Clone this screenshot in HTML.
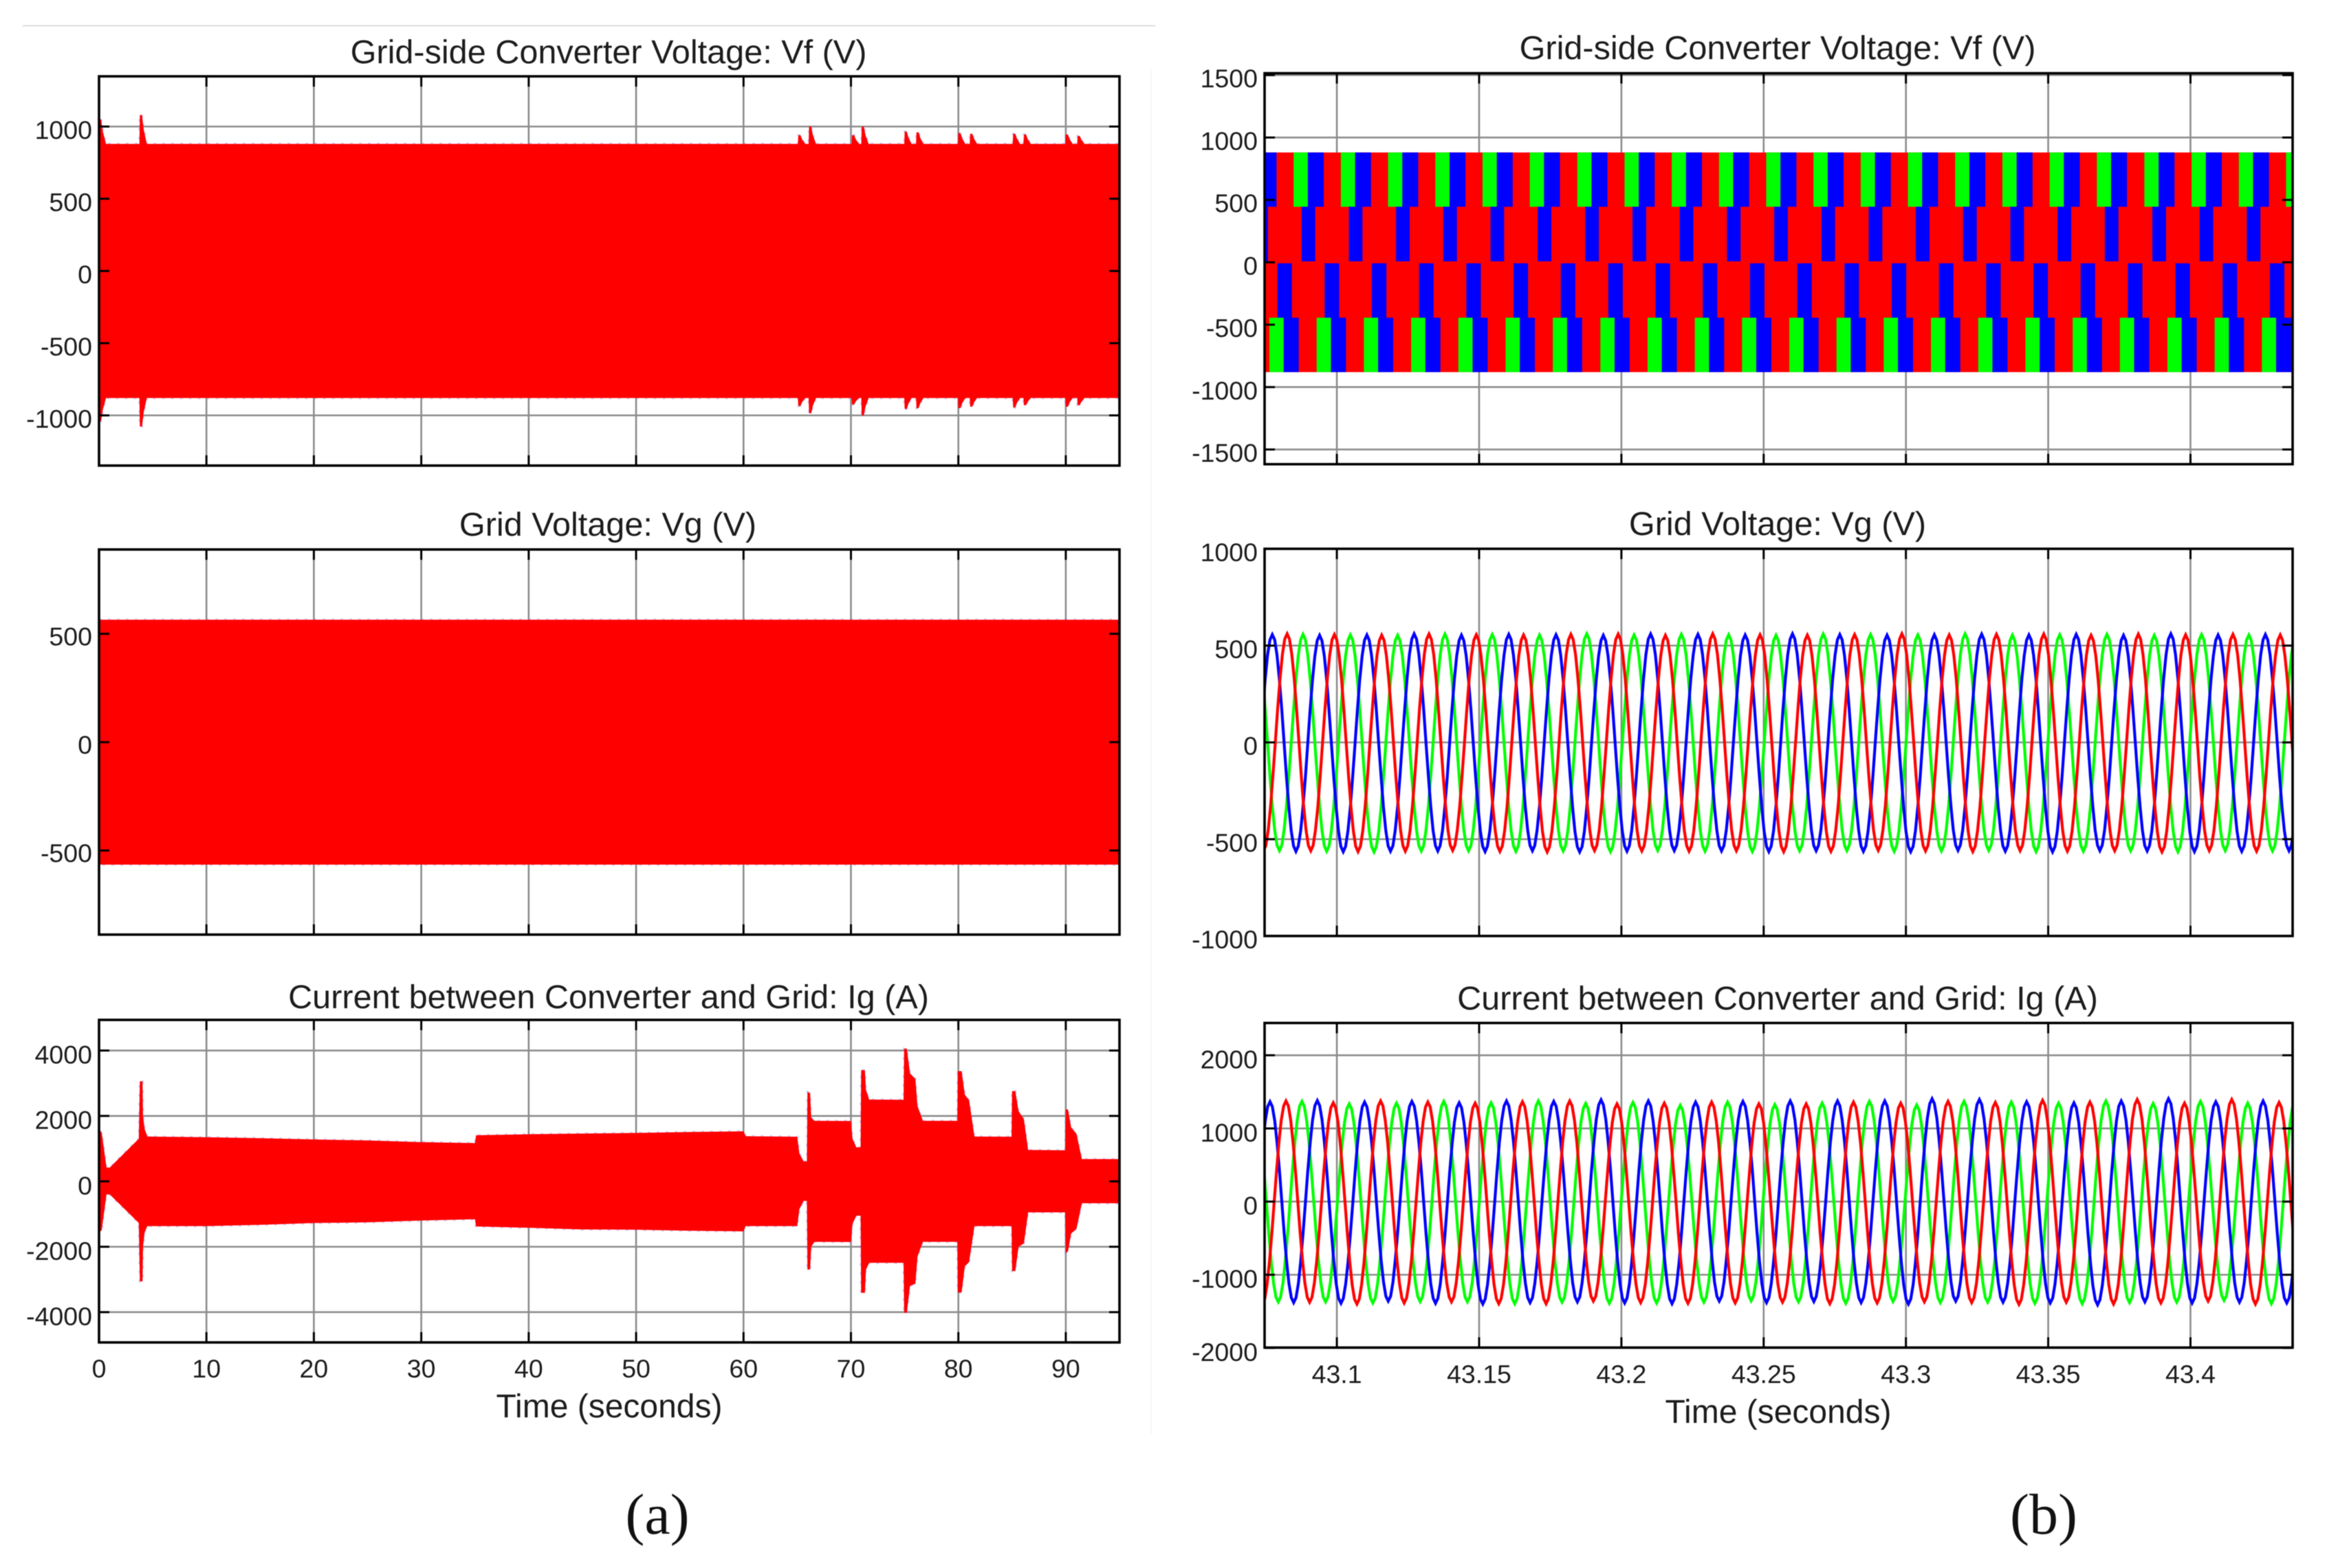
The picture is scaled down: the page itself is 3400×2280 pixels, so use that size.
<!DOCTYPE html>
<html lang="en">
<head>
<meta charset="utf-8">
<title>Grid-side converter waveforms</title>
<style>
html,body{margin:0;padding:0;background:#fff;}
svg{display:block;filter:blur(0.6px);}
text{font-family:"Liberation Sans",Arial,sans-serif;fill:#1c1c1c;}
.title{font-size:48.6px;text-anchor:middle;}
.axis-title{font-size:48px;text-anchor:middle;}
.tick{font-size:37.5px;}
.caption{font-family:"Liberation Serif",serif;font-size:84px;text-anchor:middle;fill:#111;}
</style>
</head>
<body>
<svg id="chart" xmlns="http://www.w3.org/2000/svg" width="3400" height="2280" viewBox="0 0 3400 2280">
  <rect x="0" y="0" width="3400" height="2280" fill="#fff"/>
  <line x1="33" y1="37.5" x2="1680" y2="37.5" stroke="#dcdcdc" stroke-width="2"/>
  <line x1="1674" y1="100" x2="1674" y2="2085" stroke="#f6f6f6" stroke-width="2"/>
  <g id="panel-a-top"></g>
  <g id="panel-a-mid"></g>
  <g id="panel-a-bot"></g>
  <g id="panel-b-top"></g>
  <g id="panel-b-mid"></g>
  <g id="panel-b-bot"></g>

  <text class="title" x="885" y="92">Grid-side Converter Voltage: Vf (V)</text>
  <text class="title" x="884" y="779">Grid Voltage: Vg (V)</text>
  <text class="title" x="885" y="1466">Current between Converter and Grid: Ig (A)</text>
  <text class="axis-title" x="886" y="2061">Time (seconds)</text>
  <text class="caption" x="956" y="2230">(a)</text>

  <text class="title" x="2585" y="86">Grid-side Converter Voltage: Vf (V)</text>
  <text class="title" x="2585" y="778">Grid Voltage: Vg (V)</text>
  <text class="title" x="2585" y="1468">Current between Converter and Grid: Ig (A)</text>
  <text class="axis-title" x="2586" y="2069">Time (seconds)</text>
  <text class="caption" x="2972" y="2230">(b)</text>
</svg>

<script>
// ---------- tick labels ----------
const overviewTimeTicks = [0,10,20,30,40,50,60,70,80,90];
const detailTimeTicks = [43.1,43.15,43.2,43.25,43.3,43.35,43.4];
const aTopValueTicks = [1000,500,0,-500,-1000];
const aMidValueTicks = [500,0,-500];
const aBotValueTicks = [4000,2000,0,-2000,-4000];
const bTopValueTicks = [1500,1000,500,0,-500,-1000,-1500];
const bMidValueTicks = [1000,500,0,-500,-1000];
const bBotValueTicks = [2000,1000,0,-1000,-2000];

// ---------- overview Vf envelope ----------
const vfLevelUpper = 880;
const vfLevelLower = -880;
const vfSpikeTimes = [0,3.8,65.1,66.1,70.1,71,75,76.1,80,81.1,85.1,86.1,90,91.1];
const vfSpikeUpper = [1050,1080,940,1000,940,1000,965,960,955,950,950,945,945,935];
const vfSpikeLower = [-1040,-1077,-935,-985,-925,-1000,-955,-950,-950,-940,-945,-930,-940,-930];

// ---------- overview Vg envelope ----------
const vgTimes = [0,95];
const vgUpper = [565,565];
const vgLower = [-565,-565];

// ---------- overview Ig envelope ----------
const igTimes = [0,0.25,0.7,1,3.7,3.8,4.05,4.1,4.25,4.5,10,15,20,25,30,35,35.1,40,45,50,55,60,60.2,65,65.2,65.6,65.9,65.95,66.2,66.3,66.6,70,70.15,70.5,70.9,70.95,71.3,71.4,71.7,74.9,74.95,75.2,75.5,76,76.2,76.7,79.9,79.95,80.3,80.6,81,81.5,84.95,85,85.3,85.6,86.1,86.5,89.95,90,90.2,90.5,91,91.5,95];
const igUpper = [1550,1500,420,420,1300,3060,3060,2000,1600,1370,1350,1320,1280,1250,1200,1170,1410,1440,1460,1480,1510,1530,1380,1365,850,610,610,2730,2700,1950,1850,1845,1300,1040,1040,3400,3400,2800,2500,2495,4060,4060,3300,3130,2300,1850,1850,3370,3370,2650,2480,1370,1365,2760,2760,2150,1900,960,950,2200,2200,1650,1450,680,680];
const igLower = [-1550,-1500,-400,-400,-1270,-3060,-3060,-2000,-1550,-1370,-1370,-1330,-1275,-1255,-1200,-1160,-1380,-1420,-1470,-1480,-1510,-1530,-1370,-1370,-850,-600,-600,-2700,-2690,-2000,-1850,-1855,-1300,-1050,-1050,-3410,-3410,-2700,-2490,-2490,-4020,-4020,-3200,-3130,-2300,-1850,-1850,-3400,-3400,-2600,-2470,-1370,-1370,-2745,-2745,-2000,-1900,-950,-950,-2190,-2150,-1600,-1450,-670,-670];

// ---------- detail Vf switching bands ----------
const vfBandUpper = [880,445,-8,-444];
const vfBandLower = [445,8,-444,-880];
const vfRedUpper = 880;
const vfRedLower = -880;
const band1GreenStarts = [43.0848,43.1014,43.1180,43.1346,43.1512,43.1678,43.1845,43.2011,43.2177,43.2343,43.2509,43.2675,43.2841,43.3007,43.3173,43.3339,43.3505,43.3671,43.3838,43.4004,43.4170,43.4336];
const band1BlueStarts = [43.0732,43.0898,43.1064,43.1230,43.1396,43.1562,43.1728,43.1895,43.2061,43.2227,43.2393,43.2559,43.2725,43.2891,43.3057,43.3223,43.3389,43.3555,43.3721,43.3888,43.4054,43.4220];
const band2BlueStarts = [43.0710,43.0876,43.1042,43.1208,43.1374,43.1540,43.1706,43.1873,43.2039,43.2205,43.2371,43.2537,43.2703,43.2869,43.3035,43.3201,43.3367,43.3533,43.3699,43.3866,43.4032,43.4198];
const band3BlueStarts = [43.0791,43.0957,43.1123,43.1289,43.1455,43.1621,43.1787,43.1954,43.2120,43.2286,43.2452,43.2618,43.2784,43.2950,43.3116,43.3282,43.3448,43.3614,43.3780,43.3947,43.4113,43.4279];
const band4GreenStarts = [43.0763,43.0929,43.1095,43.1261,43.1427,43.1593,43.1759,43.1926,43.2092,43.2258,43.2424,43.2590,43.2756,43.2922,43.3088,43.3254,43.3420,43.3586,43.3752,43.3919,43.4085,43.4251];
const band4BlueStarts = [43.0813,43.0979,43.1145,43.1311,43.1477,43.1643,43.1809,43.1976,43.2142,43.2308,43.2474,43.2640,43.2806,43.2972,43.3138,43.3304,43.3470,43.3636,43.3802,43.3969,43.4135,43.4301];
const band1GreenDuration = 0.0051;
const band1BlueDuration = 0.0056;
const band2BlueDuration = 0.0048;
const band3BlueDuration = 0.0051;
const band4GreenDuration = 0.0052;
const band4BlueDuration = 0.0053;

// ---------- detail waveform half-cycle extremes ----------
const halfCycleSeconds = 0.00831;
const vgBlueStart = 43.0690;
const vgRedStart = 43.0659;
const vgGreenStart = 43.0715;
const vgBlueExtremes = [-560,557,-563,553,-565,555,-562,561,-561,554,-564,558,-560,556,-566,553,-562,560,-559,558,-561,555,-564,561,-560,557,-563,554,-565,556,-558,559,-562,555,-566,558,-559,553,-561,561,-564,555,-563,557,-560,556];
const vgRedExtremes = [553,-561,561,-560,557,-564,554,-562,560,-558,556,-563,555,-566,558,-559,559,-561,553,-562,561,-560,556,-565,554,-563,557,-558,561,-561,555,-564,558,-559,560,-562,553,-560,559,-566,556,-559,558,-562,555,-561];
const vgGreenExtremes = [556,-559,558,-562,555,-566,553,-561,559,-560,557,-563,554,-561,561,-565,555,-558,558,-562,556,-564,553,-560,560,-559,557,-563,555,-561,561,-558,554,-564,556,-562,558,-560,553,-565,557,-559,555,-561,559,-563];
const igBlueStart = 43.0682;
const igRedStart = 43.0655;
const igGreenStart = 43.0711;
const igBlueExtremes = [-1370,1365,-1380,1380,-1390,1360,-1360,1370,-1390,1350,-1400,1375,-1380,1370,-1370,1390,-1385,1375,-1395,1360,-1360,1370,-1380,1375,-1365,1375,-1380,1375,-1400,1405,-1360,1395,-1375,1365,-1385,1350,-1410,1375,-1370,1405,-1385,1365,-1375,1375,-1385,1355];
const igRedExtremes = [1355,-1400,1375,-1375,1350,-1400,1375,-1385,1360,-1370,1345,-1395,1365,-1395,1375,-1360,1335,-1380,1345,-1390,1360,-1385,1335,-1375,1335,-1395,1360,-1385,1345,-1370,1370,-1380,1355,-1405,1385,-1375,1360,-1400,1395,-1385,1345,-1360,1395,-1400,1355,-1390];
const igGreenExtremes = [1335,-1370,1370,-1370,1335,-1385,1345,-1365,1370,-1370,1350,-1395,1375,-1375,1340,-1390,1355,-1385,1315,-1375,1360,-1355,1325,-1370,1345,-1390,1370,-1365,1320,-1380,1370,-1375,1360,-1390,1345,-1395,1375,-1380,1340,-1375,1370,-1350,1345,-1395,1360,-1385];

// ---------- drawing helpers ----------
const SVGNS = 'http://www.w3.org/2000/svg';
function make(parent, tag, attrs) {
  const el = document.createElementNS(SVGNS, tag);
  for (const k in attrs) el.setAttribute(k, attrs[k]);
  parent.appendChild(el);
  return el;
}
function scaleLinear(d0, d1, r0, r1) {
  return function (v) { return r0 + (v - d0) / (d1 - d0) * (r1 - r0); };
}

function buildPanel(id, box, xDomain, yDomain) {
  const parent = document.getElementById(id);
  const x = scaleLinear(xDomain[0], xDomain[1], box.left, box.right);
  const y = scaleLinear(yDomain[0], yDomain[1], box.bottom, box.top);
  const defs = make(parent, 'defs', {});
  const clip = make(defs, 'clipPath', { id: id + '-clip' });
  make(clip, 'rect', { x: box.left, y: box.top, width: box.right - box.left, height: box.bottom - box.top });
  return { parent, box, x, y, clipUrl: 'url(#' + id + '-clip)' };
}

function drawGrid(p, xTicks, yTicks) {
  xTicks.forEach(function (t) {
    const line = make(p.parent, 'line', { x1: p.x(t), x2: p.x(t), y1: p.box.top, y2: p.box.bottom, stroke: '#8c8c8c', 'stroke-width': 2.6 });
    
    
  });
  yTicks.forEach(function (v) {
    const line = make(p.parent, 'line', { x1: p.box.left, x2: p.box.right, y1: p.y(v), y2: p.y(v), stroke: '#8c8c8c', 'stroke-width': 2.6 });
    
    
  });
}

function drawFrame(p, xTicks, yTicks, yLabelDy, xLabels, xLabelY) {
  const b = p.box;
  const tickLen = 15;
  xTicks.forEach(function (t) {
    const upper = make(p.parent, 'line', { x1: p.x(t), x2: p.x(t), y1: b.top, y2: b.top + tickLen, stroke: '#000', 'stroke-width': 3 });
    
    
    const lower = make(p.parent, 'line', { x1: p.x(t), x2: p.x(t), y1: b.bottom, y2: b.bottom - tickLen, stroke: '#000', 'stroke-width': 3 });
    
    
  });
  yTicks.forEach(function (v) {
    const leftTick = make(p.parent, 'line', { x1: b.left, x2: b.left + tickLen, y1: p.y(v), y2: p.y(v), stroke: '#000', 'stroke-width': 3 });
    
    
    const rightTick = make(p.parent, 'line', { x1: b.right, x2: b.right - tickLen, y1: p.y(v), y2: p.y(v), stroke: '#000', 'stroke-width': 3 });
    
    
    const label = make(p.parent, 'text', { class: 'tick', x: b.left - 10, y: p.y(v) + yLabelDy, 'text-anchor': 'end' });
    label.textContent = String(v);
    
    
  });
  const frame = make(p.parent, 'rect', { x: b.left, y: b.top, width: b.right - b.left, height: b.bottom - b.top, fill: 'none', stroke: '#000', 'stroke-width': 3.6 });
  
  
  if (xLabels) {
    xLabels.forEach(function (t) {
      const label = make(p.parent, 'text', { class: 'tick', x: p.x(t), y: xLabelY, 'text-anchor': 'middle' });
      label.textContent = String(t);
      
      
    });
  }
}

function drawEnvelope(p, times, upper, lower, name) {
  const pts = [];
  times.forEach(function (t, i) { pts.push(p.x(t).toFixed(1) + ',' + p.y(upper[i]).toFixed(1)); });
  for (let i = times.length - 1; i >= 0; i--) pts.push(p.x(times[i]).toFixed(1) + ',' + p.y(lower[i]).toFixed(1));
  const group = make(p.parent, 'g', { 'clip-path': p.clipUrl });
  
  
  const fringe = make(group, 'polygon', { points: pts.join(' '), fill: 'none', stroke: '#8f86ff', 'stroke-width': 3.4, 'stroke-dasharray': '4 9', opacity: 0.4 });
  
  
  const body = make(group, 'polygon', { points: pts.join(' '), fill: '#ff0000' });
  
  
}

function drawWave(p, start, extremes, color, name) {
  const pts = [];
  const steps = 10;
  for (let i = 0; i < extremes.length - 1; i++) {
    for (let s = 0; s < steps; s++) {
      const u = s / steps;
      const v = (extremes[i] + extremes[i + 1]) / 2 + (extremes[i] - extremes[i + 1]) / 2 * Math.cos(Math.PI * u);
      const t = start + (i + u) * halfCycleSeconds;
      pts.push(p.x(t).toFixed(1) + ',' + p.y(v).toFixed(1));
    }
  }
  const line = make(p.parent, 'polyline', { points: pts.join(' '), fill: 'none', stroke: color, 'stroke-width': 4.2, 'clip-path': p.clipUrl });
  
  
}

function drawPulses(p, starts, duration, bandIndex, color, name) {
  starts.forEach(function (t) {
    const x0 = p.x(t);
    const x1 = p.x(t + duration);
    const y0 = p.y(vfBandUpper[bandIndex]);
    const y1 = p.y(vfBandLower[bandIndex]);
    const bar = make(p.parent, 'rect', { x: x0, y: y0, width: x1 - x0, height: y1 - y0, fill: color, 'clip-path': p.clipUrl });
    
    
  });
}

function spikeEnvelope(level, peaks, times) {
  // rise, flat top, and decay tail for every transient
  const out = { t: [], v: [] };
  let cursor = 0;
  out.t.push(0); out.v.push(level);
  times.forEach(function (T, i) {
    const peak = peaks[i];
    const seq = [[T - 0.04, level], [T, peak], [T + 0.2, peak], [T + 0.36, (peak + level) / 2], [T + 0.65, level]];
    seq.forEach(function (pair) {
      if (pair[0] >= cursor) {
        out.t.push(pair[0]); out.v.push(pair[1]);
        cursor = pair[0];
      }
    });
  });
  out.t.push(95); out.v.push(level);
  return out;
}

// ---------- panels ----------
const overviewTime = [0, 95];
const detailTime = [43.0746, 43.4359];

// (a) top
const pAT = buildPanel('panel-a-top', { left: 144, right: 1628, top: 111, bottom: 677 }, overviewTime, [-1347.6, 1347.6]);
drawGrid(pAT, overviewTimeTicks, aTopValueTicks);
const vfUp = spikeEnvelope(vfLevelUpper, vfSpikeUpper, vfSpikeTimes);
const vfDown = spikeEnvelope(vfLevelLower, vfSpikeLower, vfSpikeTimes);
drawEnvelope(pAT, vfUp.t, vfUp.v, vfDown.v, 'overview-vf-envelope');
drawFrame(pAT, overviewTimeTicks, aTopValueTicks, 18);

// (a) middle
const pAM = buildPanel('panel-a-mid', { left: 144, right: 1628, top: 799, bottom: 1359 }, overviewTime, [-888, 889]);
drawGrid(pAM, overviewTimeTicks, aMidValueTicks);
drawEnvelope(pAM, vgTimes, vgUpper, vgLower, 'overview-vg-envelope');
drawFrame(pAM, overviewTimeTicks, aMidValueTicks, 17);

// (a) bottom
const pAB = buildPanel('panel-a-bot', { left: 144, right: 1628, top: 1483, bottom: 1952 }, overviewTime, [-4926, 4937]);
drawGrid(pAB, overviewTimeTicks, aBotValueTicks);
drawEnvelope(pAB, igTimes, igUpper, igLower, 'overview-ig-envelope');
drawFrame(pAB, overviewTimeTicks, aBotValueTicks, 19, overviewTimeTicks, 2003);

// (b) top
const pBT = buildPanel('panel-b-top', { left: 1839, right: 3334, top: 106.5, bottom: 675 }, detailTime, [-1618, 1515]);
drawGrid(pBT, detailTimeTicks, bTopValueTicks);
const redBlock = make(pBT.parent, 'rect', { x: pBT.box.left, y: pBT.y(vfRedUpper), width: pBT.box.right - pBT.box.left, height: pBT.y(vfRedLower) - pBT.y(vfRedUpper), fill: '#ff0000' });


drawPulses(pBT, band1GreenStarts, band1GreenDuration, 0, '#00ff00', 'vf-green-pulse');
drawPulses(pBT, band1BlueStarts, band1BlueDuration, 0, '#0000ff', 'vf-blue-pulse');
drawPulses(pBT, band2BlueStarts, band2BlueDuration, 1, '#0000ff', 'vf-blue-pulse');
drawPulses(pBT, band3BlueStarts, band3BlueDuration, 2, '#0000ff', 'vf-blue-pulse');
drawPulses(pBT, band4GreenStarts, band4GreenDuration, 3, '#00ff00', 'vf-green-pulse');
drawPulses(pBT, band4BlueStarts, band4BlueDuration, 3, '#0000ff', 'vf-blue-pulse');
drawFrame(pBT, detailTimeTicks, bTopValueTicks, 18);

// (b) middle
const pBM = buildPanel('panel-b-mid', { left: 1839, right: 3334, top: 798, bottom: 1361 }, detailTime, [-1000, 1000]);
drawGrid(pBM, detailTimeTicks, bMidValueTicks);
drawWave(pBM, vgGreenStart, vgGreenExtremes, '#00ff00', 'vg-green-phase');
drawWave(pBM, vgBlueStart, vgBlueExtremes, '#0000ff', 'vg-blue-phase');
drawWave(pBM, vgRedStart, vgRedExtremes, '#ff0000', 'vg-red-phase');
drawFrame(pBM, detailTimeTicks, bMidValueTicks, 18);

// (b) bottom
const pBB = buildPanel('panel-b-bot', { left: 1839, right: 3334, top: 1487.5, bottom: 1959.5 }, detailTime, [-1995, 2441]);
drawGrid(pBB, detailTimeTicks, bBotValueTicks);
drawWave(pBB, igGreenStart, igGreenExtremes, '#00ff00', 'ig-green-phase');
drawWave(pBB, igBlueStart, igBlueExtremes, '#0000ff', 'ig-blue-phase');
drawWave(pBB, igRedStart, igRedExtremes, '#ff0000', 'ig-red-phase');
drawFrame(pBB, detailTimeTicks, bBotValueTicks, 19, detailTimeTicks, 2011);
</script>
</body>
</html>
